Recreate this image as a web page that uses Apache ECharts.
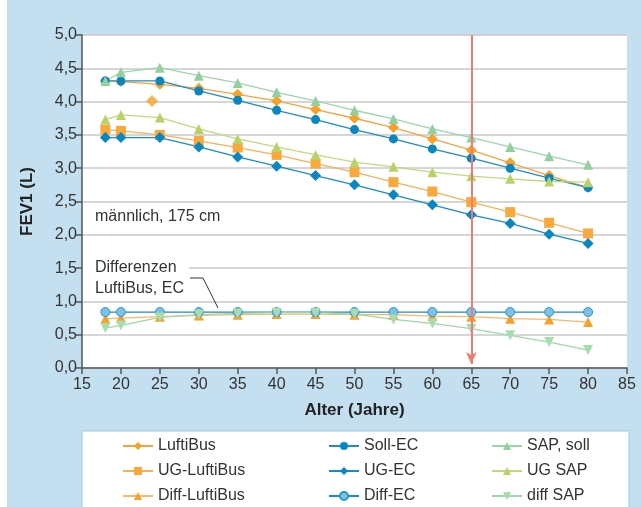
<!DOCTYPE html>
<html>
<head>
<meta charset="utf-8">
<script src="https://cdn.jsdelivr.net/npm/echarts@6/dist/echarts.min.js"></script>
<style>
  html, body { margin: 0; padding: 0; background: #ffffff; }
  #main { width: 641px; height: 507px; }
</style>
</head>
<body>
<div id="main"></div>
<script>
// Alter (Jahre)
const ages = [18, 20, 25, 30, 35, 40, 45, 50, 55, 60, 65, 70, 75, 80];

// FEV1 (L)
const luftiBus     = [4.31, 4.30, 4.26, 4.20, 4.11, 4.01, 3.88, 3.75, 3.61, 3.44, 3.27, 3.08, 2.89, 2.71];
const luftiBusExtra = [[24, 4.01]];
const ugLuftiBus   = [3.58, 3.56, 3.50, 3.41, 3.31, 3.20, 3.07, 2.94, 2.79, 2.65, 2.49, 2.34, 2.18, 2.02];
const diffLuftiBus = [0.74, 0.75, 0.77, 0.79, 0.80, 0.81, 0.81, 0.80, 0.80, 0.78, 0.77, 0.74, 0.73, 0.69];
const sollEC       = [4.31, 4.31, 4.31, 4.16, 4.02, 3.87, 3.73, 3.58, 3.44, 3.29, 3.15, 3.00, 2.85, 2.71];
const ugEC         = [3.46, 3.46, 3.46, 3.32, 3.17, 3.03, 2.89, 2.75, 2.60, 2.45, 2.30, 2.17, 2.01, 1.87];
const diffEC       = [0.84, 0.84, 0.84, 0.84, 0.84, 0.84, 0.84, 0.84, 0.84, 0.84, 0.84, 0.84, 0.84, 0.84];
const sapSoll      = [4.31, 4.44, 4.51, 4.39, 4.28, 4.14, 4.01, 3.87, 3.74, 3.59, 3.46, 3.32, 3.18, 3.05];
const ugSAP        = [3.73, 3.80, 3.76, 3.59, 3.44, 3.32, 3.20, 3.09, 3.02, 2.94, 2.88, 2.84, 2.80, 2.79];
const diffSAP      = [0.60, 0.64, 0.76, 0.80, 0.82, 0.83, 0.83, 0.81, 0.73, 0.67, 0.59, 0.49, 0.39, 0.27];

const xTicks = [15, 85, 5];
const yTicks = [0, 5, 0.5];
const markAge = 65;

// legend layout: 3 columns x 3 rows
const legendCols = [
  ['LuftiBus', 'UG-LuftiBus', 'Diff-LuftiBus'],
  ['Soll-EC', 'UG-EC', 'Diff-EC'],
  ['SAP, soll', 'UG SAP', 'diff SAP'],
];
const legendX = [122, 328, 491];
const legendY = [447, 472, 497];

const pair = (arr) => ages.map((a, i) => [a, arr[i]]);
const fmt = (v) => v.toFixed(1).replace('.', ',');
const FONT = "'Liberation Sans', 'DejaVu Sans', sans-serif";

function line(name, data, color, symbol, size, lineColor, extra) {
  return Object.assign({
    name: name,
    type: 'line',
    data: pair(data),
    symbol: symbol,
    symbolSize: size,
    itemStyle: { color: color },
    lineStyle: { color: lineColor || color, width: 1.3 },
    emphasis: { disabled: true },
    z: 3,
  }, extra || {});
}

const legends = [];
legendCols.forEach((col, c) => {
  col.forEach((name, r) => {
    legends.push({
      data: [name],
      left: legendX[c],
      top: legendY[r] - 9,
      padding: 0,
      itemWidth: 30,
      itemHeight: 10,
      itemGap: 6,
      selectedMode: false,
      textStyle: { fontSize: 16, color: '#333', fontFamily: FONT },
    });
  });
});

const chart = echarts.init(document.getElementById('main'));

const option = {
  backgroundColor: '#ffffff',
  animation: false,
  textStyle: { fontFamily: FONT },
  grid: { left: 82, right: 14, top: 35, bottom: 139 },
  xAxis: {
    type: 'value',
    min: xTicks[0],
    max: xTicks[1],
    interval: xTicks[2],
    name: 'Alter (Jahre)',
    nameLocation: 'middle',
    nameGap: 34,
    nameTextStyle: { fontWeight: 'bold', fontSize: 17, color: '#222', fontFamily: FONT },
    axisLine: { lineStyle: { color: '#555', width: 1.5 } },
    axisTick: { length: 6, lineStyle: { color: '#555', width: 1.5 } },
    axisLabel: { fontSize: 16, color: '#333', margin: 9, fontFamily: FONT },
    splitLine: { show: false },
  },
  yAxis: {
    type: 'value',
    min: yTicks[0],
    max: yTicks[1],
    interval: yTicks[2],
    name: 'FEV1 (L)',
    nameLocation: 'middle',
    nameGap: 46,
    nameTextStyle: { fontWeight: 'bold', fontSize: 17, color: '#222', fontFamily: FONT },
    axisLine: { show: true, lineStyle: { color: '#555', width: 1.5 } },
    axisTick: { show: true, length: 6, lineStyle: { color: '#555', width: 1.5 } },
    axisLabel: { fontSize: 16, color: '#333', margin: 5, formatter: fmt, fontFamily: FONT },
    splitLine: { lineStyle: { color: '#c9c9c9', width: 1.5 } },
  },
  legend: legends,
  graphic: [
    { type: 'rect', z: -10, shape: { x: 7, y: 0, width: 634, height: 507 }, style: { fill: '#c4e0f0' } },
    { type: 'rect', z: -9, shape: { x: 82, y: 35, width: 545, height: 333 }, style: { fill: '#ffffff' } },
    { type: 'rect', z: -9, shape: { x: 82, y: 431, width: 547, height: 80 }, style: { fill: '#ffffff', stroke: '#9ccbe3', lineWidth: 1 } },
    {
      type: 'text', left: 95, top: 209, z: 10,
      style: { text: 'männlich, 175 cm', fontSize: 16, fill: '#333', fontFamily: FONT },
    },
    {
      type: 'text', left: 83, top: 255, z: 10,
      style: {
        text: 'Differenzen\nLuftiBus, EC', fontSize: 16, lineHeight: 21, fill: '#333',
        fontFamily: FONT, backgroundColor: '#ffffff', padding: [2, 5, 2, 12],
      },
    },
    {
      type: 'polyline', z: 10,
      shape: { points: [[190, 278], [203, 278], [218, 308]] },
      style: { stroke: '#333', lineWidth: 1, fill: null },
    },
  ],
  series: [
    line('LuftiBus', luftiBus, '#f7a12a', 'diamond', 11, '#f5a33c', {
      markLine: {
        silent: true,
        symbol: ['none', 'arrow'],
        symbolSize: [8, 12],
        label: { show: false },
        lineStyle: { color: '#ee7c72', width: 2, type: 'solid' },
        data: [[{ coord: [markAge, yTicks[1]] }, { coord: [markAge, 0.06] }]],
      },
    }),
    {
      name: 'LuftiBus', type: 'scatter', data: luftiBusExtra, symbol: 'diamond', symbolSize: 12,
      itemStyle: { color: '#f7a12a' }, emphasis: { disabled: true }, z: 3,
    },
    line('UG-LuftiBus', ugLuftiBus, '#f9a83c', 'rect', 10, '#f7b05a'),
    line('Diff-LuftiBus', diffLuftiBus, '#f7a12a', 'triangle', 10, '#f8b86a'),
    line('Soll-EC', sollEC, '#0a86c0', 'circle', 9, '#1b8cc4'),
    line('UG-EC', ugEC, '#0a86c0', 'diamond', 11, '#1b8cc4'),
    line('Diff-EC', diffEC, '#6cb8e2', 'circle', 9, '#1b8cc4', {
      itemStyle: { color: '#7cc1e6', borderColor: '#2a96cc', borderWidth: 1 },
    }),
    line('SAP, soll', sapSoll, '#92d0a0', 'triangle', 10, '#9dd5aa'),
    line('UG SAP', ugSAP, '#b6d268', 'triangle', 10, '#c1d87c'),
    line('diff SAP', diffSAP, '#a6dcae', 'path://M0,0 L10,0 L5,9 Z', 10, '#a0d6a8'),
  ],
};

chart.setOption(option);
</script>
</body>
</html>
